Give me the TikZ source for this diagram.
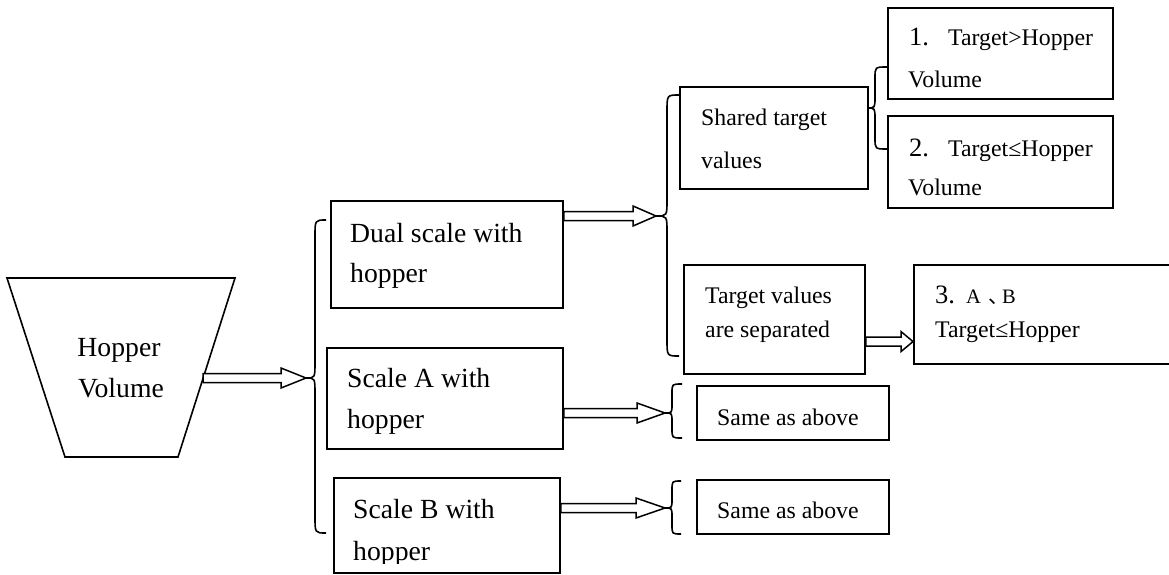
\documentclass[tikz,border=0pt]{standalone}
\usepackage{fontspec}
\setmainfont{Liberation Serif}
\newfontfamily\cjkfont{Noto Sans CJK SC}
\usetikzlibrary{calc}

\newcommand\bigtext{\fontsize{27.7}{32}\selectfont}
\newcommand\smalltext{\fontsize{23.8}{28}\selectfont}
\newcommand\numtext{\fontsize{26.5}{30}\selectfont}
\newcommand\tinytext{\fontsize{20.5}{24}\selectfont}

% hollow block arrow: #1 start, #2 tip, #3 head length
\newcommand\hollowarrow[3]{%
  \path[arrowshape] let \p1=(#1), \p2=(#2) in
    (\x1,\y1+4.5pt) -- (\x2-#3pt,\y1+4.5pt) -- (\x2-#3pt,\y1+10pt) -- (\x2,\y1)
    -- (\x2-#3pt,\y1-10pt) -- (\x2-#3pt,\y1-4.5pt) -- (\x1,\y1-4.5pt) -- cycle;}

% left curly brace: #1 tip name, #2 x of ends, #3 x of stem, #4 x of tip,
% #5 top y, #6 tip y, #7 bottom y, #8 curl length
\newcommand\sidebrace[8]{%
  \coordinate (#1) at (#4,#6);
  \draw[bracestyle] (#2,#5) .. controls (#3,#5) .. (#3,{#5+#8})
    -- (#3,{#6-#8}) .. controls (#3,#6) .. (#1)
    .. controls (#3,#6) .. (#3,{#6+#8})
    -- (#3,{#7-#8}) .. controls (#3,#7) .. (#2,#7);}

\begin{document}
\begin{tikzpicture}[x=1pt,y=-1pt,
  box/.style={draw, line width=1.8pt, inner sep=0pt, anchor=north west},
  txt/.style={inner sep=0pt, anchor=base west, font=\bigtext},
  stxt/.style={inner sep=0pt, anchor=base west, font=\smalltext},
  ntxt/.style={inner sep=0pt, anchor=base west, font=\numtext},
  arrowshape/.style={draw, fill=white, line width=1.5pt, line join=miter},
  bracestyle/.style={draw, line width=1.6pt},
  hopperline/.style={draw, line width=1.6pt}]

\clip (0,0) rectangle (1169,575);
\fill[white] (0,0) rectangle (1169,575);

% hopper body
\coordinate (tl) at (7,278);
\coordinate (tr) at (235,278);
\coordinate (br) at (178,457);
\coordinate (bl) at (65,457);
\draw[hopperline] (tl) -- (tr) -- (br) -- (bl) -- cycle;
\coordinate (hopR) at ($(tr)!0.5587!(br)$);
\node[inner sep=0pt, anchor=base, font=\bigtext] (hop1) at (119,356) {Hopper};
\node[inner sep=0pt, anchor=base, font=\bigtext] (hop2) at (121,397) {Volume};

% braces
\sidebrace{b1}{326}{315}{306}{220}{378}{533}{16}
\sidebrace{b2}{679}{667}{656}{95}{216}{356}{16}
\sidebrace{b3}{887}{875}{867}{67}{108}{149}{11}
\sidebrace{b4}{682}{672}{665}{384}{413}{438}{9}
\sidebrace{b5}{681}{672}{665}{481}{508}{534}{9}

% boxes
\node[box, minimum width=232, minimum height=107] (dual) at (330,200) {};
\node[box, minimum width=236, minimum height=101] (scaleA) at (326,347) {};
\node[box, minimum width=226, minimum height=95] (scaleB) at (333,477) {};
\node[box, minimum width=188, minimum height=102] (shared) at (679,86) {};
\node[box, minimum width=181, minimum height=109] (sep) at (683,264) {};
\node[box, minimum width=225, minimum height=91] (c1) at (887,7) {};
\node[box, minimum width=225, minimum height=92] (c2) at (887,115) {};
\node[box, minimum width=277, minimum height=99] (c3) at (913,264) {};
\node[box, minimum width=192, minimum height=54] (same1) at (696,385) {};
\node[box, minimum width=192, minimum height=54] (same2) at (696,479) {};

% arrows
\hollowarrow{hopR}{b1}{25}
\hollowarrow{dual.east |- b2}{b2}{23}
\hollowarrow{scaleA.east |- b4}{b4}{28}
\hollowarrow{scaleB.east |- b5}{b5}{29}
\coordinate (sepout) at ($(sep.south east)!0.3!(sep.north east)$);
\hollowarrow{sepout}{c3.west |- sepout}{12}

% labels
\node[txt] (dual1) at (350,242) {Dual scale with};
\node[txt] (dual2) at (350,282) {hopper};
\node[txt] (sa1) at (347,387) {Scale A with};
\node[txt] (sa2) at (347,428) {hopper};
\node[txt] (sb1) at (353,518) {Scale B with};
\begin{scope}
  \clip (334,478) rectangle (558,563);
  \node[txt] (sb2) at (353,560) {hopper};
\end{scope}
\node[stxt] (sh1) at (701,125) {Shared target};
\node[stxt] (sh2) at (701,168) {values};
\node[stxt] (sp1) at (705,303) {Target values};
\node[stxt] (sp2) at (705,337) {are separated};
\node[ntxt] (n1) at (909,46) {1.};
\node[stxt] (c1a) at (948,46) {Target>Hopper};
\node[stxt] (c1b) at (908,88) {Volume};
\node[ntxt] (n2) at (909,157) {2.};
\node[stxt] (c2a) at (948,157) {Target≤Hopper};
\node[stxt] (c2b) at (908,195) {Volume};
\node[ntxt] (n3) at (935,303) {3.};
\node[inner sep=0pt, anchor=base west, font=\tinytext] (c3a) at (966,303)
  {\makebox[22pt][l]{A}\makebox[14pt][l]{\cjkfont 、}B};
\node[stxt] (c3b) at (935,337) {Target≤Hopper};
\node[stxt] (s1) at (717,425) {Same as above};
\node[stxt] (s2) at (717,518) {Same as above};
\end{tikzpicture}
\end{document}
